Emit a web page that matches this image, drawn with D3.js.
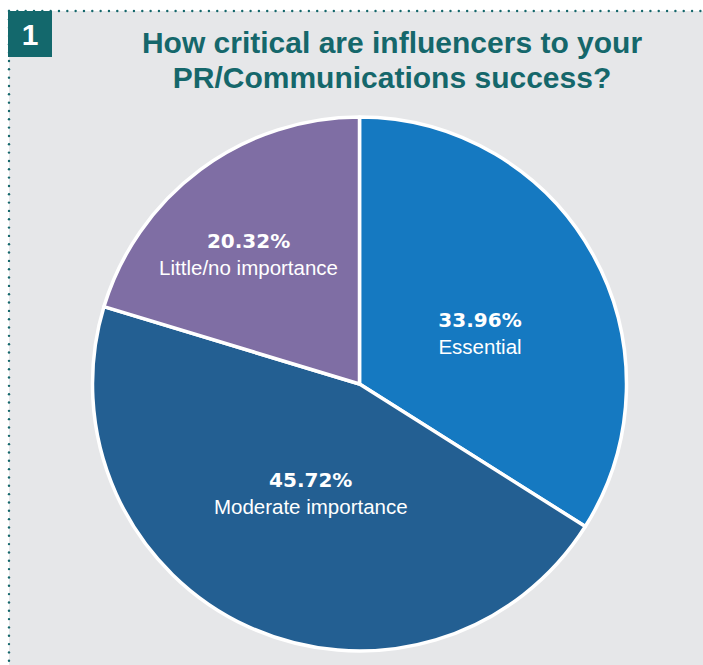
<!DOCTYPE html>
<html><head><meta charset="utf-8">
<script src="https://cdn.jsdelivr.net/npm/d3@7"></script>
<style>
html,body{margin:0;padding:0;background:#fff;}
svg{display:block;}
</style></head>
<body>
<svg id="c" width="703" height="665"></svg>
<script>
const categories = ["Essential", "Moderate importance", "Little/no importance"];
const values = [33.96, 45.72, 20.32];
const colors = ["#1579c1", "#235f92", "#7f6ea4"];
const titleLines = ["How critical are influencers to your", "PR/Communications success?"];
const badge = "1";

const W = 703, H = 665;
const svg = d3.select("#c");
const teal = "#15676b";

// panel
svg.append("rect").attr("x", 9).attr("y", 11).attr("width", W - 9).attr("height", H - 11).attr("fill", "#e6e7e9");
// dotted borders
const dotsTop = d3.range(9, W, 8.33);
svg.selectAll(".dt").data(dotsTop).join("circle").attr("cx", d => d).attr("cy", 11).attr("r", 1.2).attr("fill", teal);
const dotsLeft = d3.range(11, H, 8.33);
svg.selectAll(".dl").data(dotsLeft).join("circle").attr("cx", 9).attr("cy", d => d).attr("r", 1.2).attr("fill", teal);

// badge
svg.append("rect").attr("x", 8).attr("y", 11).attr("width", 44).attr("height", 46).attr("fill", "#13686c");
svg.append("text").attr("x", 30).attr("y", 45).attr("text-anchor", "middle")
  .attr("font-family", "Liberation Sans, Arial, sans-serif").attr("font-weight", "bold").attr("font-size", 30)
  .attr("fill", "#fff").text(badge);

// title
svg.append("g").selectAll("text").data(titleLines).join("text")
  .attr("x", 392).attr("y", (d, i) => 53 + i * 35).attr("text-anchor", "middle")
  .attr("font-family", "Liberation Sans, Arial, sans-serif").attr("font-weight", "bold").attr("font-size", 30)
  .attr("fill", teal).text(d => d);

// pie
const cx = 359.5, cy = 384, R = 267;
const g = svg.append("g").attr("transform", `translate(${cx},${cy})`);
const data = categories.map((c, i) => ({ name: c, value: values[i], color: colors[i] }));
const pie = d3.pie().value(d => d.value).sort(null);
const arcs = pie(data);
const arc = d3.arc().innerRadius(0).outerRadius(R);
g.selectAll("path").data(arcs).join("path")
  .attr("d", arc).attr("fill", d => d.data.color)
  .attr("stroke", "#fff").attr("stroke-width", 3.5).attr("stroke-linejoin", "round");

// label placement (radius fraction, angular nudge in degrees) per slice index
const labelPlace = [{ f: 0.48, da: 9 }, { f: 0.47, da: -1.7 }, { f: 0.62, da: -5.5 }];
const lab = g.selectAll("g.lab").data(arcs).join("g").attr("class", "lab")
  .attr("transform", (d, i) => {
    const p = labelPlace[i];
    const a = (d.startAngle + d.endAngle) / 2 + p.da * Math.PI / 180;
    const r = R * p.f;
    return `translate(${r * Math.sin(a)},${-r * Math.cos(a)})`;
  });
lab.append("text").attr("text-anchor", "middle").attr("y", -13)
  .attr("font-family", "DejaVu Sans, sans-serif").attr("font-weight", "bold").attr("font-size", 20)
  .attr("fill", "#fff").text(d => d.data.value.toFixed(2) + "%");
lab.append("text").attr("text-anchor", "middle").attr("y", 14)
  .attr("font-family", "Liberation Sans, Arial, sans-serif").attr("font-size", 20.5)
  .attr("fill", "#fff").text(d => d.data.name);
</script>
</body></html>
